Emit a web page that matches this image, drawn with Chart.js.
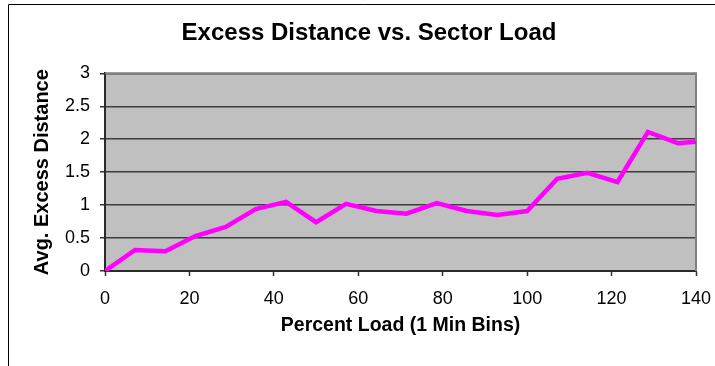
<!DOCTYPE html>
<html>
<head>
<meta charset="utf-8">
<title>Excess Distance vs. Sector Load</title>
<script src="https://cdn.jsdelivr.net/npm/chart.js@4/dist/chart.umd.min.js"></script>
<style>
  html, body { margin: 0; padding: 0; background: #ffffff; }
  #wrap { width: 715px; height: 366px; }
</style>
</head>
<body>
<div id="wrap"><canvas id="chart" width="715" height="366"></canvas></div>
<script>
// Percent load (1-minute bins) and the average excess distance in each bin
const percentLoad = [0, 7.1, 14.3, 21.4, 28.6, 35.7, 42.9, 50, 57.1, 64.3, 71.4,
                     78.6, 85.7, 92.9, 100, 107.1, 114.3, 121.4, 128.6, 135.7, 140];
const avgExcessDistance = [0, 0.32, 0.30, 0.53, 0.67, 0.94, 1.05, 0.74, 1.02, 0.91, 0.87,
                           1.03, 0.91, 0.85, 0.91, 1.40, 1.49, 1.35, 2.11, 1.94, 1.96];

const chartTitle = 'Excess Distance vs. Sector Load';
const xTitle = 'Percent Load (1 Min Bins)';
const yTitle = 'Avg. Excess Distance';
const xRange = [0, 140];
const xStep = 20;
const yRange = [0, 3];
const yStep = 0.5;

const FONT = '"Liberation Sans", Arial, Helvetica, sans-serif';

// Outer frame, grey plot background and plot border
const frame = {
  id: 'frame',
  beforeDraw(chart) {
    const { ctx, chartArea: a } = chart;
    ctx.save();
    ctx.fillStyle = '#ffffff';
    ctx.fillRect(0, 0, chart.width, chart.height);
    ctx.strokeStyle = '#000000';
    ctx.lineWidth = 1;
    ctx.beginPath();
    ctx.moveTo(8.5, chart.height + 2);
    ctx.lineTo(8.5, 4.5);
    ctx.lineTo(chart.width + 2, 4.5);
    ctx.stroke();
    ctx.fillStyle = '#c0c0c0';
    ctx.fillRect(a.left, a.top, a.right - a.left, a.bottom - a.top);
    ctx.restore();
  },
  beforeDatasetsDraw(chart) {
    const { ctx, chartArea: a } = chart;
    ctx.save();
    ctx.strokeStyle = '#808080';
    ctx.lineWidth = 2;
    ctx.beginPath();
    ctx.moveTo(a.left, a.top);
    ctx.lineTo(a.right, a.top);
    ctx.lineTo(a.right, a.bottom);
    ctx.stroke();
    ctx.restore();
  }
};

new Chart(document.getElementById('chart'), {
  type: 'line',
  data: {
    datasets: [{
      data: percentLoad.map((x, i) => ({ x: x, y: avgExcessDistance[i] })),
      borderColor: '#ff00ff',
      borderWidth: 4.5,
      pointRadius: 0,
      pointHoverRadius: 0,
      tension: 0,
      fill: false
    }]
  },
  options: {
    responsive: false,
    animation: false,
    events: [],
    layout: { padding: { left: 42, right: 19, top: 0, bottom: 0 } },
    plugins: {
      legend: { display: false },
      tooltip: { enabled: false },
      title: {
        display: true,
        text: chartTitle,
        color: '#000000',
        font: { family: FONT, size: 24, weight: 'bold', lineHeight: 1.1 },
        padding: { top: 20.3, bottom: 26.6 }
      }
    },
    scales: {
      x: {
        type: 'linear',
        min: xRange[0],
        max: xRange[1],
        afterFit(scale) {
          scale.height = 95;
          scale.paddingRight = 0;
        },
        ticks: {
          stepSize: xStep,
          color: '#000000',
          padding: 12,
          maxRotation: 0,
          font: { family: FONT, size: 18 }
        },
        grid: {
          drawOnChartArea: false,
          drawTicks: true,
          tickLength: 5,
          tickColor: '#333333',
          tickWidth: 1.5
        },
        border: { display: true, color: '#2a2a2a', width: 2 },
        title: {
          display: true,
          text: xTitle,
          color: '#000000',
          font: { family: FONT, size: 19.5, weight: 'bold', lineHeight: 1.2 },
          padding: { top: 0, bottom: 28.3 }
        }
      },
      y: {
        type: 'linear',
        min: yRange[0],
        max: yRange[1],
        afterFit(scale) { scale.width = 63; },
        ticks: {
          stepSize: yStep,
          color: '#000000',
          padding: 10,
          font: { family: FONT, size: 18 },
          callback: (v) => String(v)
        },
        grid: {
          drawOnChartArea: true,
          drawTicks: true,
          tickLength: 5,
          color: '#3c3c3c',
          lineWidth: 1.5,
          tickColor: '#333333',
          tickWidth: 1.5
        },
        border: { display: true, color: '#2a2a2a', width: 2 },
        title: {
          display: true,
          text: yTitle,
          color: '#000000',
          font: { family: FONT, size: 20, weight: 'bold', lineHeight: 1.2 },
          padding: { top: -12, bottom: 0 }
        }
      }
    }
  },
  plugins: [frame]
});
</script>
</body>
</html>
